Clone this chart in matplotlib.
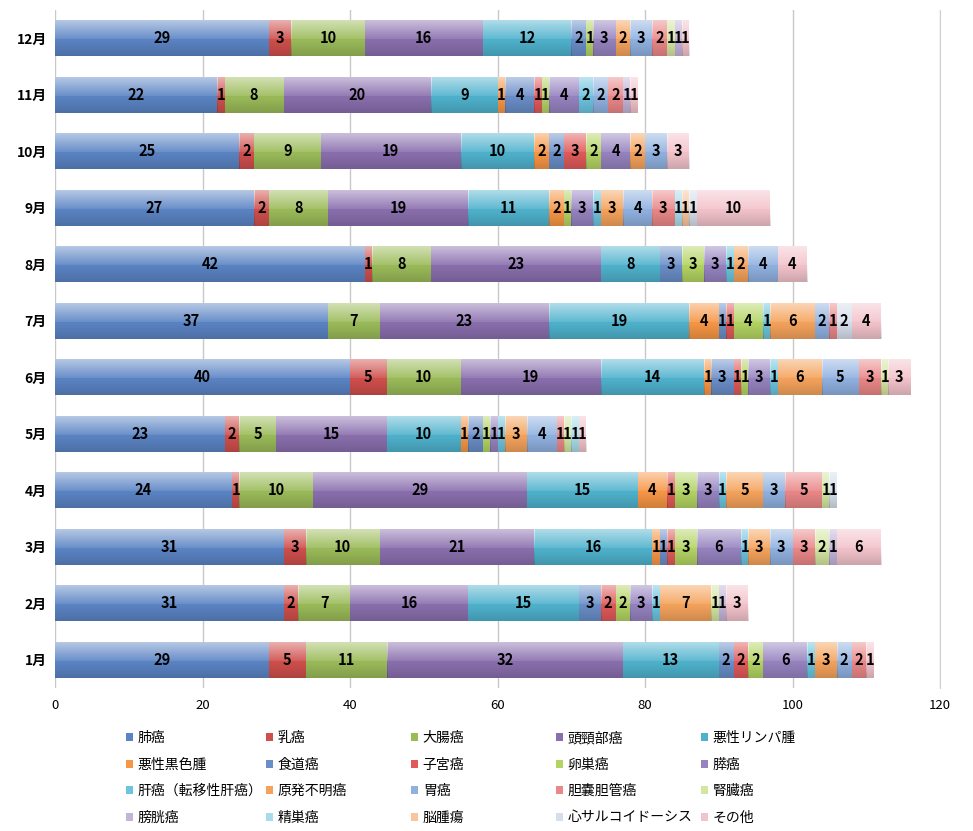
import numpy as np
import matplotlib
matplotlib.use("Agg")
import matplotlib.pyplot as plt
from matplotlib.patches import Patch

plt.rcParams["font.family"] = ["Noto Sans CJK JP", "DejaVu Sans"]

# ======================
# DATA (1月 -> 12月)
# ======================
months = ["1月", "2月", "3月", "4月", "5月", "6月", "7月", "8月", "9月", "10月", "11月", "12月"]

categories = [
    "肺癌", "乳癌", "大腸癌", "頭頸部癌", "悪性リンパ腫",
    "悪性黒色腫", "食道癌", "子宮癌", "卵巣癌", "膵癌",
    "肝癌（転移性肝癌）", "原発不明癌", "胃癌", "胆嚢胆管癌", "腎臓癌",
    "膀胱癌", "精巣癌", "脳腫瘍", "心サルコイドーシス", "その他",
]

lung = [29, 31, 31, 24, 23, 40, 37, 42, 27, 25, 22, 29]
breast = [5, 2, 3, 1, 2, 5, 0, 1, 2, 2, 1, 3]
colon = [11, 7, 10, 10, 5, 10, 7, 8, 8, 9, 8, 10]
head_neck = [32, 16, 21, 29, 15, 19, 23, 23, 19, 19, 20, 16]
lymphoma = [13, 15, 16, 15, 10, 14, 19, 8, 11, 10, 9, 12]
melanoma = [0, 0, 1, 4, 1, 1, 4, 0, 2, 2, 1, 0]
esophagus = [2, 3, 1, 0, 2, 3, 1, 3, 0, 2, 4, 2]
uterus = [2, 2, 1, 1, 0, 1, 1, 0, 0, 3, 1, 0]
ovary = [2, 2, 3, 3, 1, 1, 4, 3, 1, 2, 1, 1]
pancreas = [6, 3, 6, 3, 1, 3, 0, 3, 3, 4, 4, 3]
liver = [1, 1, 1, 1, 1, 1, 1, 1, 1, 0, 2, 0]
unknown = [3, 7, 3, 5, 3, 6, 6, 2, 3, 2, 0, 2]
stomach = [2, 0, 3, 3, 4, 5, 2, 4, 4, 3, 2, 3]
biliary = [2, 0, 3, 5, 1, 3, 1, 0, 3, 0, 2, 2]
kidney = [0, 1, 2, 1, 1, 1, 0, 0, 0, 0, 0, 1]
bladder = [0, 1, 1, 0, 0, 0, 0, 0, 0, 0, 1, 1]
testis = [0, 0, 0, 0, 1, 0, 0, 0, 1, 0, 0, 0]
brain = [0, 0, 0, 0, 0, 0, 0, 0, 1, 0, 0, 0]
sarcoid = [0, 0, 0, 1, 0, 0, 2, 0, 1, 0, 0, 0]
other = [1, 3, 6, 0, 1, 3, 4, 4, 10, 3, 1, 1]

series = [lung, breast, colon, head_neck, lymphoma,
          melanoma, esophagus, uterus, ovary, pancreas,
          liver, unknown, stomach, biliary, kidney,
          bladder, testis, brain, sarcoid, other]

colors = [
    "#5b84c4", "#cf4f4c", "#9bbb59", "#8a6fae", "#4fb2cd",
    "#f79646", "#6a8ec8", "#e05a5a", "#b3d463", "#9683c0",
    "#6cc4de", "#f5a35c", "#90b1e0", "#ea8788", "#d3e6a0",
    "#c3b4d9", "#a8dcea", "#f9c59c", "#d5deeb", "#f3c3cb",
]

# ======================
# PLOT
# ======================
fig = plt.figure(figsize=(9.73, 8.31), dpi=100)
ax = fig.add_axes([55 / 973, 1 - 688 / 831, 885 / 973, 678 / 831])

y = np.arange(len(months))
left = np.zeros(len(months))

# glossy overlay like the original spreadsheet chart
grad = np.zeros((64, 1, 4))
t = np.linspace(0, 1, 64)
grad[:, 0, :3] = np.where(t[:, None] < 0.55, 1.0, 0.0)
grad[:, 0, 3] = np.where(t < 0.55, 0.5 * (0.55 - t) / 0.55 + 0.08, 0.16 * (t - 0.55) / 0.45)

for vals, col, name in zip(series, colors, categories):
    vals = np.array(vals, dtype=float)
    bars = ax.barh(y, vals, left=left, height=0.64, color=col, label=name,
                   zorder=2, linewidth=0)
    for b in bars:
        if b.get_width() <= 0:
            continue
        x0, y0 = b.get_x(), b.get_y()
        im = ax.imshow(grad, extent=[x0, x0 + b.get_width(), y0, y0 + b.get_height()],
                       aspect="auto", zorder=3, interpolation="bilinear")
        im.set_clip_path(b)
    labels = [f"{int(v)}" if v > 0 else "" for v in vals]
    ax.bar_label(bars, labels=labels, label_type="center", fontsize=10.5,
                 fontweight="bold", color="black", zorder=4)
    left += vals

ax.set_xlim(0, 120)
ax.set_ylim(-0.5, len(months) - 0.5)
ax.set_xticks(range(0, 121, 20))
ax.set_yticks(y)
ax.set_yticklabels(months, fontsize=10, fontweight="bold")
ax.tick_params(axis="x", labelsize=9.5, length=0, pad=8)
ax.tick_params(axis="y", length=0, pad=6)
ax.grid(axis="x", color="#c8c8c8", linewidth=1, zorder=0)
ax.set_axisbelow(True)
for s in ["top", "bottom", "left"]:
    ax.spines[s].set_visible(False)
ax.spines["right"].set_color("#d0d0d0")

# legend: 5 equal-width columns, read row by row
handles = [Patch(facecolor=c, edgecolor="none") for c in colors]
col_x = [126, 266, 411, 556, 701]
for c in range(5):
    leg = fig.legend(handles[c::5], categories[c::5], loc="upper left",
                     bbox_to_anchor=(col_x[c] / 973, 1 - 731 / 831),
                     frameon=False, fontsize=10, handlelength=0.5,
                     handleheight=0.5, handletextpad=0.35, labelspacing=0.9,
                     borderpad=0, borderaxespad=0)

fig.savefig("out.png", dpi=100)
